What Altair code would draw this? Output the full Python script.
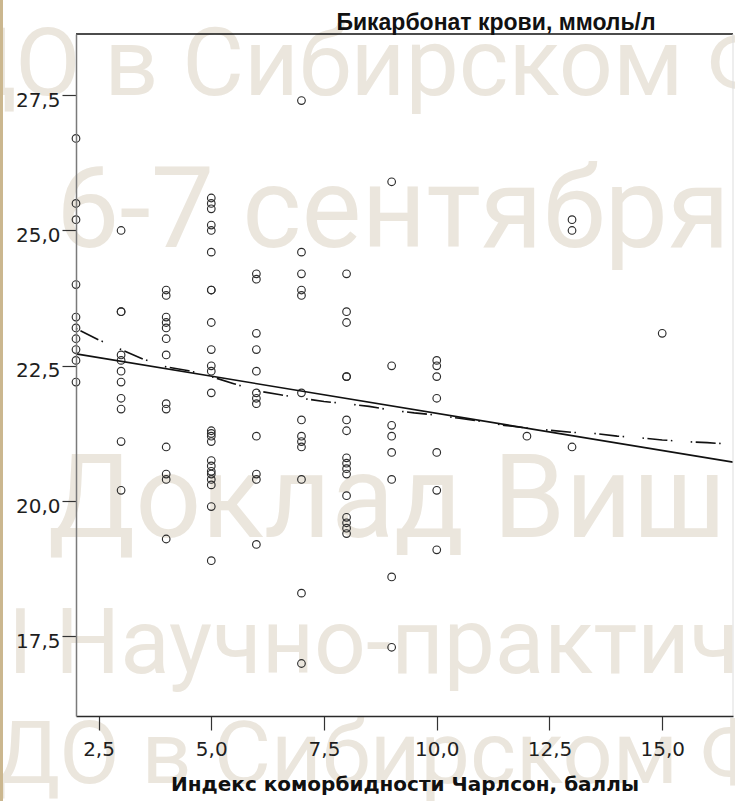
import altair as alt
import pandas as pd

# Plot frame in page pixels
LEFT, TOP = 76, 34
W, H = 657, 682
PAGE_W, PAGE_H = 735, 801

X_DOMAIN = [2.0, 16.57]
Y_DOMAIN = [16.03, 28.63]

# Charlson comorbidity index (points) and blood bicarbonate (mmol/l)
ci_2 = [26.7, 25.5, 25.2, 24.0, 23.4, 23.2, 23.0, 22.8, 22.6, 22.2]
ci_3 = [25.0, 23.5, 23.5, 22.7, 22.6, 22.4, 22.2, 21.9, 21.7, 21.1, 20.2]
ci_4 = [23.9, 23.8, 23.4, 23.3, 23.2, 23.0, 22.7, 21.8, 21.7, 21.0, 20.5, 20.4, 19.3]
ci_5 = [25.6, 25.5, 25.4, 25.1, 25.0, 24.6, 23.9, 23.9, 23.3, 22.8, 22.5, 22.4, 22.0,
        21.3, 21.25, 21.2, 21.1, 20.75, 20.65, 20.55, 20.5, 20.4, 20.3, 19.9, 18.9]
ci_6 = [24.2, 24.1, 23.1, 22.8, 22.4, 22.0, 21.9, 21.8, 21.2, 20.5, 20.4, 19.2]
ci_7 = [27.4, 24.6, 24.2, 23.9, 23.8, 22.0, 21.5, 21.2, 21.1, 21.0, 20.4, 18.3, 17.0]
ci_8 = [24.2, 23.5, 23.3, 22.3, 22.3, 21.5, 21.3, 20.8, 20.7, 20.6, 20.5, 20.1,
        19.7, 19.6, 19.5, 19.4]
ci_9 = [25.9, 22.5, 21.4, 21.2, 20.9, 20.4, 18.6, 17.3]
ci_10 = [22.6, 22.5, 22.3, 21.9, 20.9, 20.2, 19.1]
ci_12 = [21.2]
ci_13 = [25.2, 25.0, 21.0]
ci_15 = [23.1]

groups = {2: ci_2, 3: ci_3, 4: ci_4, 5: ci_5, 6: ci_6, 7: ci_7, 8: ci_8,
          9: ci_9, 10: ci_10, 12: ci_12, 13: ci_13, 15: ci_15}

# Linear fit line
fit_x = [2.0, 16.57]
fit_y = [22.72, 20.72]

# Loess fit line
loess_x = [2.0, 2.5, 3.0, 3.5, 4.0, 4.5, 5.0, 5.5, 6.0, 6.5, 7.0, 7.5, 8.0, 8.5, 9.0,
           9.5, 10.0, 10.5, 11.0, 11.5, 12.0, 12.5, 13.0, 13.5, 14.0, 14.5, 15.0,
           15.5, 16.0, 16.57]
loess_y = [23.19, 22.98, 22.8, 22.62, 22.48, 22.41, 22.3, 22.17, 22.04, 21.97, 21.9,
           21.84, 21.8, 21.75, 21.68, 21.63, 21.59, 21.53, 21.47, 21.4, 21.35, 21.31,
           21.27, 21.25, 21.2, 21.17, 21.13, 21.1, 21.08, 21.05]

x_ticks = [2.5, 5.0, 7.5, 10.0, 12.5, 15.0]
y_ticks = [17.5, 20.0, 22.5, 25.0, 27.5]

title_text = "Бикарбонат крови, ммоль/л"
x_title = "Индекс коморбидности Чарлсон, баллы"

# Background banner lines: text, left x, baseline y (page px), font size
banner = [
    ("ДО в Сибирском Ф", -55, 95, 95),
    ("6-7 сентября", 56, 247, 113),
    ("Доклад Виш", 48, 537, 116),
    ("I Научно-практич", 8, 673, 91),
    ("ДО в Сибирском Ф", -6, 783, 88),
]

pts = pd.DataFrame(
    [(k, v) for k, vals in groups.items() for v in vals], columns=["ci", "hco3"]
)
fit_df = pd.DataFrame({"ci": fit_x, "hco3": fit_y})
loess_df = pd.DataFrame({"ci": loess_x, "hco3": loess_y})

comma = "replace(format(datum.value, '.1f'), '.', ',')"

x_enc = alt.X(
    "ci:Q",
    scale=alt.Scale(domain=X_DOMAIN, nice=False, zero=False),
    axis=alt.Axis(
        values=x_ticks, labelExpr=comma, grid=False, zindex=2,
        labelFont="DejaVu Sans", labelFontSize=20, labelColor="#1e1e1e",
        tickSize=14, tickColor="#333333", tickWidth=1.2, labelPadding=9,
        domainColor="#2a2a2a", domainWidth=1.5,
        title=x_title, titleFont="DejaVu Sans", titleFontSize=20,
        titleFontWeight="bold", titleColor="#111111", titlePadding=15,
    ),
)
y_enc = alt.Y(
    "hco3:Q",
    scale=alt.Scale(domain=Y_DOMAIN, nice=False, zero=False),
    axis=alt.Axis(
        values=y_ticks, labelExpr=comma, grid=False, title=None, zindex=2,
        labelFont="DejaVu Sans", labelFontSize=20, labelColor="#1e1e1e",
        tickSize=14, tickColor="#333333", tickWidth=1.2, labelPadding=2,
        labelOffset=5, domainColor="#7a7a7a", domainWidth=1.5,
    ),
)

blank = pd.DataFrame({"t": [""]})

layers = []
for text, bx, by, fs in banner:
    layers.append(
        alt.Chart(pd.DataFrame({"t": [text]}))
        .mark_text(font="Roboto", fontSize=fs, color="#ebe6dd",
                   align="left", baseline="alphabetic")
        .encode(x=alt.value(bx - LEFT), y=alt.value(by - TOP), text="t:N")
    )

# thin tan strip along the left page edge
layers.append(
    alt.Chart(blank).mark_rect(color="#cbb78f")
    .encode(x=alt.value(-LEFT), x2=alt.value(-LEFT + 3),
            y=alt.value(-TOP), y2=alt.value(PAGE_H - TOP))
)

points = alt.Chart(pts).mark_point(
    shape="circle", filled=False, size=58, color="#2c2c2c", strokeWidth=1.15, opacity=1
).encode(x=x_enc, y=y_enc)

fit = alt.Chart(fit_df).mark_line(color="#111111", strokeWidth=1.6).encode(
    x="ci:Q", y="hco3:Q")

loess = alt.Chart(loess_df).mark_line(
    color="#111111", strokeWidth=1.6, strokeDash=[1.5, 3.5, 20, 3.5, 1.5, 18.4]
).encode(x="ci:Q", y="hco3:Q")

top_rule = alt.Chart(blank).mark_rule(color="#111111", strokeWidth=1.5).encode(
    x=alt.value(0), x2=alt.value(W), y=alt.value(0))
right_rule = alt.Chart(blank).mark_rule(color="#dddddd", strokeWidth=1).encode(
    x=alt.value(W), y=alt.value(0), y2=alt.value(H))

title = alt.Chart(pd.DataFrame({"t": [title_text]})).mark_text(
    font="Liberation Sans", fontSize=23, fontWeight="bold", color="#111111",
    align="center", baseline="alphabetic"
).encode(x=alt.value(496 - LEFT), y=alt.value(30 - TOP), text="t:N")

chart = alt.layer(
    *layers, points, fit, loess, top_rule, right_rule, title
).properties(
    width=W, height=H,
    padding={"left": LEFT, "top": TOP, "right": PAGE_W - LEFT - W,
             "bottom": PAGE_H - TOP - H},
    autosize=alt.AutoSizeParams(type="none"),
    background="white",
).configure_view(stroke=None)

chart.save("out.html", embed_options={"renderer": "svg", "actions": False})
